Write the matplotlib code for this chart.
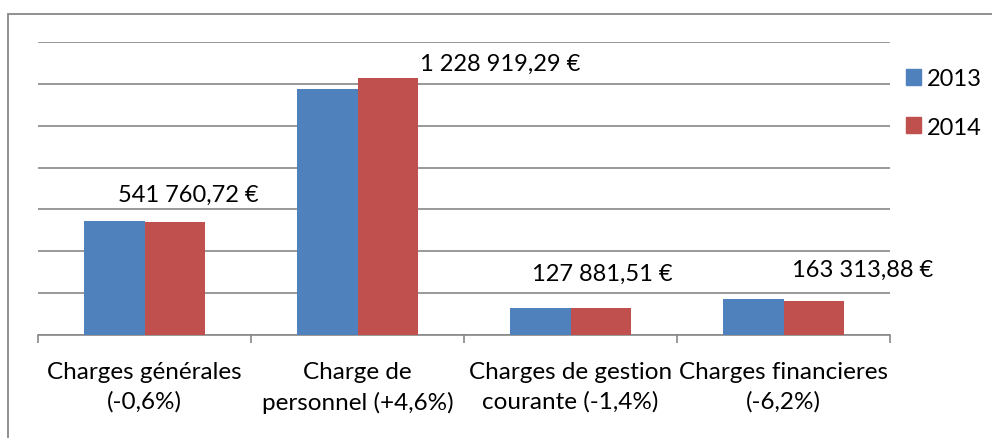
import matplotlib.pyplot as plt
from matplotlib.patches import Rectangle, Patch

categories = ['Charges générales\n(-0,6%)', 'Charge de\npersonnel (+4,6%)',
              'Charges de gestion\ncourante (-1,4%)', 'Charges financieres\n(-6,2%)']
years = ['2013', '2014']
values_2014 = [541760.72, 1228919.29, 127881.51, 163313.88]
values_2013 = [545031.0, 1174875.0, 129697.0, 174108.0]
value_labels = ['541 760,72 €', '1 228 919,29 €', '127 881,51 €', '163 313,88 €']

blue = '#4F81BD'
red = '#C0504D'
gray = '#888888'

plt.rcParams['font.family'] = ['Lato', 'DejaVu Sans']
fs = 17

fig = plt.figure(figsize=(9.92, 4.39), dpi=100)
ax = fig.add_axes([38 / 992, 103 / 439, 852 / 992, 293 / 439])

w = 0.286
x = list(range(len(categories)))
ax.bar([i - w / 2 for i in x], values_2013, width=w, color=blue, zorder=3, label=years[0])
ax.bar([i + w / 2 for i in x], values_2014, width=w, color=red, zorder=3, label=years[1])

ax.set_xlim(-0.5, len(categories) - 0.5)
ax.set_ylim(0, 1400000)
ax.set_yticks(range(0, 1400001, 200000))
ax.yaxis.grid(True, color=gray, lw=1.2, zorder=0)
ax.tick_params(axis='y', length=0, labelleft=False)

ax.set_xticks(x)
ax.set_xticklabels(categories, fontsize=17.5, linespacing=1.45)
ax.set_xticks([i - 0.5 for i in range(len(categories) + 1)], minor=True)
ax.tick_params(axis='x', which='major', length=0, pad=19)
ax.tick_params(axis='x', which='minor', length=6, color=gray, width=1.2)

for side in ['top', 'right', 'left']:
    ax.spines[side].set_visible(False)
ax.spines['bottom'].set_color(gray)
ax.spines['bottom'].set_linewidth(1.2)

# labels were moved by hand in the original chart
offsets = [(13, 27), (112, 14), (1, 35), (49, 31)]
for i, (v, txt) in enumerate(zip(values_2014, value_labels)):
    ax.annotate(txt, xy=(i + w / 2, v), xytext=offsets[i], textcoords='offset pixels',
                ha='center', va='center', fontsize=fs)

handles = [Patch(color=blue), Patch(color=red)]
fig.legend(handles, years, loc='upper left', bbox_to_anchor=(906 / 992, 1 - 69 / 439),
           frameon=False, fontsize=fs, handlelength=0.65, handleheight=0.65,
           handletextpad=0.25, labelspacing=1.17, borderpad=0, borderaxespad=0)

fig.patches.append(Rectangle((8 / 992, -0.1), 2, 1.1 - 15 / 439, transform=fig.transFigure,
                             fill=False, edgecolor=gray, lw=1.3))

fig.savefig('out.png', dpi=100, facecolor='white')
